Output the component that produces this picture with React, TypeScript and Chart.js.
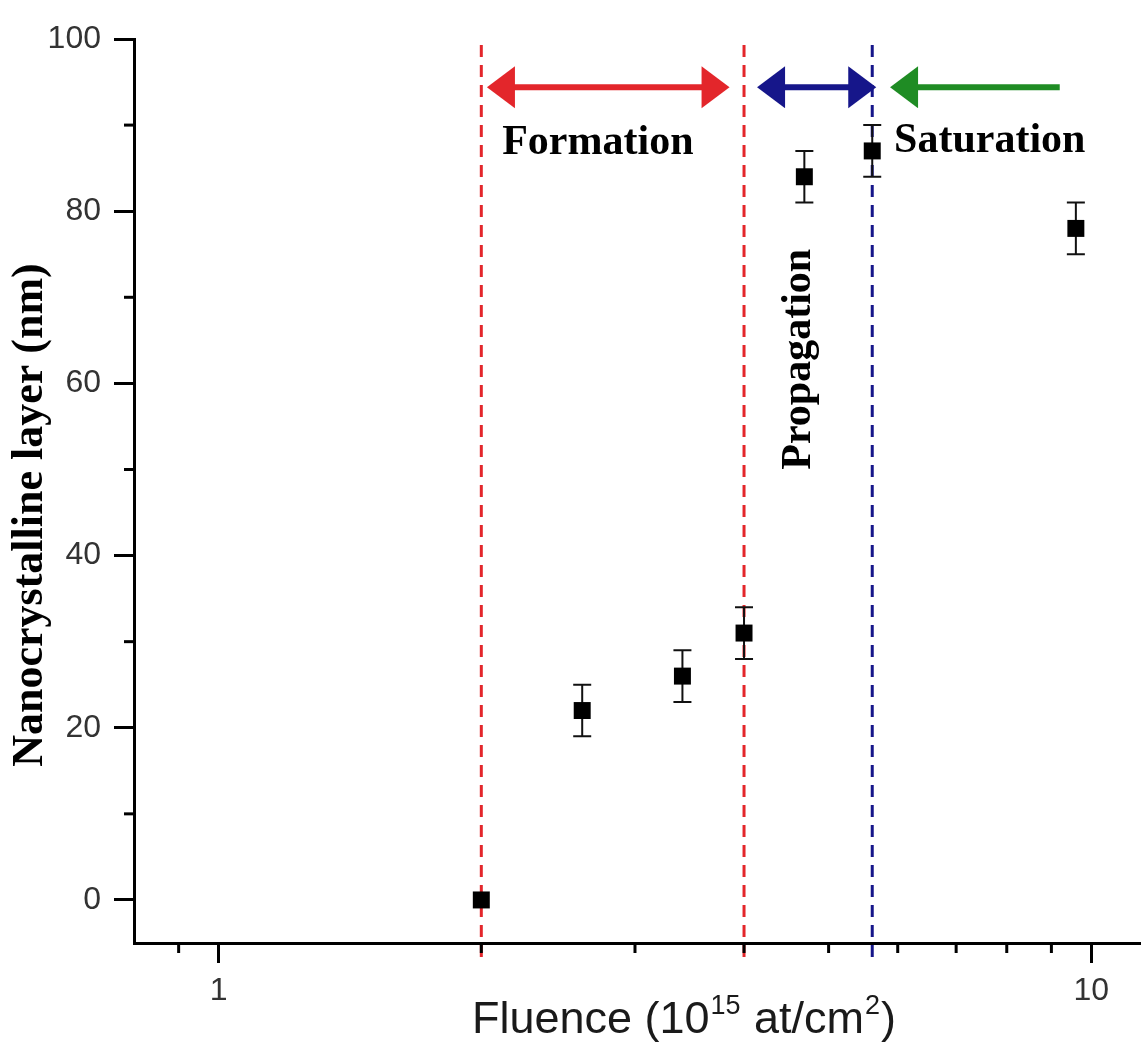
import React, { useEffect, useRef } from "react";
import { Chart, registerables } from "chart.js";

Chart.register(...registerables);

// ---- data ----
const fluence = [2.0, 2.61, 3.4, 4.0, 4.69, 5.61, 9.6];
const thickness = [0, 22, 26, 31, 84, 87, 78];
const thicknessError = [0, 3, 3, 3, 3, 3, 3];

const xMajorTicks = [1, 10];
const xMinorTicks = [0.9, 2, 3, 4, 5, 6, 7, 8, 9];
const yMajorTicks = [0, 20, 40, 60, 80, 100];
const yMinorTicks = [10, 30, 50, 70, 90];

const redBoundaries = [2.0, 4.0];
const blueBoundaries = [5.61];

const arrowLevel = 94.4;
const formationArrow = [2.03, 3.85];
const propagationArrow = [4.14, 5.67];
const saturationArrow = [9.2, 5.88]; // tail, tip

const regionLabels = ["Formation", "Propagation", "Saturation"];
const regionLabelX = [2.72, 4.76, 7.65];
const regionLabelY = [86.6, 62.8, 86.9];

const RED = "#e3262b";
const BLUE = "#16168a";
const GREEN = "#1f8c24";

function arrowHead(ctx: CanvasRenderingContext2D, tipX: number, y: number, dir: number, color: string) {
  const len = 28;
  const half = 21;
  ctx.fillStyle = color;
  ctx.beginPath();
  ctx.moveTo(tipX, y);
  ctx.lineTo(tipX - dir * len, y - half);
  ctx.lineTo(tipX - dir * len, y + half);
  ctx.closePath();
  ctx.fill();
}

function shaft(ctx: CanvasRenderingContext2D, x1: number, x2: number, y: number, color: string) {
  ctx.strokeStyle = color;
  ctx.lineWidth = 6;
  ctx.setLineDash([]);
  ctx.beginPath();
  ctx.moveTo(x1, y);
  ctx.lineTo(x2, y);
  ctx.stroke();
}

const overlayPlugin = {
  id: "overlay",
  beforeDatasetsDraw(chart: any) {
    const { ctx } = chart;
    const x = chart.scales.x;
    const y = chart.scales.y;
    ctx.save();
    // boundaries
    ctx.lineWidth = 3;
    ctx.setLineDash([12, 8]);
    const yTop = y.getPixelForValue(100) + 6;
    const yBot = y.bottom + 18;
    const drawV = (v: number, c: string) => {
      const px = x.getPixelForValue(v);
      ctx.strokeStyle = c;
      ctx.beginPath();
      ctx.moveTo(px, yTop);
      ctx.lineTo(px, yBot);
      ctx.stroke();
    };
    redBoundaries.forEach((v) => drawV(v, RED));
    blueBoundaries.forEach((v) => drawV(v, BLUE));

    // error bars
    ctx.setLineDash([]);
    ctx.strokeStyle = "#111";
    ctx.lineWidth = 2;
    fluence.forEach((f, i) => {
      const e = thicknessError[i];
      if (!e) return;
      const px = x.getPixelForValue(f);
      const y1 = y.getPixelForValue(thickness[i] + e);
      const y2 = y.getPixelForValue(thickness[i] - e);
      ctx.beginPath();
      ctx.moveTo(px, y1);
      ctx.lineTo(px, y2);
      ctx.moveTo(px - 9, y1);
      ctx.lineTo(px + 9, y1);
      ctx.moveTo(px - 9, y2);
      ctx.lineTo(px + 9, y2);
      ctx.stroke();
    });
    ctx.restore();
  },
  afterDraw(chart: any) {
    const { ctx } = chart;
    const x = chart.scales.x;
    const y = chart.scales.y;
    ctx.save();
    ctx.setLineDash([]);

    // minor ticks
    ctx.strokeStyle = "#000";
    ctx.lineWidth = 3;
    xMinorTicks.forEach((v) => {
      const px = x.getPixelForValue(v);
      ctx.beginPath();
      ctx.moveTo(px, y.bottom);
      ctx.lineTo(px, y.bottom + 10);
      ctx.stroke();
    });
    yMinorTicks.forEach((v) => {
      const py = y.getPixelForValue(v);
      ctx.beginPath();
      ctx.moveTo(x.left, py);
      ctx.lineTo(x.left - 10, py);
      ctx.stroke();
    });

    // arrows
    const ay = y.getPixelForValue(arrowLevel);
    const fL = x.getPixelForValue(formationArrow[0]);
    const fR = x.getPixelForValue(formationArrow[1]);
    shaft(ctx, fL + 20, fR - 20, ay, RED);
    arrowHead(ctx, fL, ay, -1, RED);
    arrowHead(ctx, fR, ay, 1, RED);

    const pL = x.getPixelForValue(propagationArrow[0]);
    const pR = x.getPixelForValue(propagationArrow[1]);
    shaft(ctx, pL + 20, pR - 20, ay, BLUE);
    arrowHead(ctx, pL, ay, -1, BLUE);
    arrowHead(ctx, pR, ay, 1, BLUE);

    const sT = x.getPixelForValue(saturationArrow[0]);
    const sH = x.getPixelForValue(saturationArrow[1]);
    shaft(ctx, sT, sH + 20, ay, GREEN);
    arrowHead(ctx, sH, ay, -1, GREEN);

    // region labels
    ctx.fillStyle = "#000";
    ctx.font = "bold 42px 'Liberation Serif', 'Times New Roman', serif";
    ctx.textBaseline = "alphabetic";
    regionLabels.forEach((t, i) => {
      const px = x.getPixelForValue(regionLabelX[i]);
      const py = y.getPixelForValue(regionLabelY[i]);
      if (t === "Propagation") {
        ctx.save();
        ctx.translate(px, py);
        ctx.rotate(-Math.PI / 2);
        ctx.textAlign = "center";
        ctx.fillText(t, 0, 0);
        ctx.restore();
      } else {
        ctx.textAlign = "center";
        ctx.fillText(t, px, py);
      }
    });

    // y title
    ctx.save();
    ctx.translate(31, 515);
    ctx.rotate(-Math.PI / 2);
    ctx.textAlign = "center";
    ctx.textBaseline = "middle";
    ctx.font = "bold 44px 'Liberation Serif', 'Times New Roman', serif";
    ctx.fillText("Nanocrystalline layer (nm)", 0, 0);
    ctx.restore();

    // x title with superscripts
    const base = "45px 'Liberation Sans', Arial, sans-serif";
    const sup = "27px 'Liberation Sans', Arial, sans-serif";
    const parts: [string, boolean][] = [
      ["Fluence (10", false],
      ["15", true],
      [" at/cm", false],
      ["2", true],
      [")", false],
    ];
    let total = 0;
    const widths = parts.map(([t, s]) => {
      ctx.font = s ? sup : base;
      const w = ctx.measureText(t).width + (s ? 2 : 0);
      total += w;
      return w;
    });
    let cx = 684 - total / 2;
    const by = 1033;
    ctx.fillStyle = "#1a1a1a";
    ctx.textAlign = "left";
    ctx.textBaseline = "alphabetic";
    parts.forEach(([t, s], i) => {
      ctx.font = s ? sup : base;
      ctx.fillText(t, cx + (s ? 1 : 0), s ? by - 19 : by);
      cx += widths[i];
    });

    ctx.restore();
  },
};

export default function App() {
  const canvasRef = useRef<HTMLCanvasElement | null>(null);

  useEffect(() => {
    const canvas = canvasRef.current;
    if (!canvas) return;
    const chart = new Chart(canvas, {
      type: "scatter",
      data: {
        datasets: [
          {
            label: "Nanocrystalline layer",
            data: fluence.map((f, i) => ({ x: f, y: thickness[i] })),
            pointStyle: "rect",
            pointRadius: 12,
            pointHoverRadius: 12,
            backgroundColor: "#000",
            borderColor: "#000",
            borderWidth: 0,
          },
        ],
      },
      options: {
        responsive: false,
        animation: false,
        devicePixelRatio: 1,
        layout: { autoPadding: false, padding: { top: 39, right: 0, left: 0, bottom: 0 } },
        plugins: {
          legend: { display: false },
          tooltip: { enabled: false },
          title: { display: false },
        },
        scales: {
          x: {
            type: "logarithmic",
            min: 0.8,
            max: 11.4,
            afterBuildTicks: (scale: any) => {
              scale.ticks = xMajorTicks.map((v) => ({ value: v, major: true }));
            },
            afterFit: (scale: any) => {
              scale.height = 102;
              scale.paddingLeft = 0;
              scale.paddingRight = 0;
            },
            ticks: {
              autoSkip: false,
              maxRotation: 0,
              padding: 9,
              color: "#333",
              font: { family: "'Liberation Sans', Arial, sans-serif", size: 32 },
              callback: (v: any) => String(v),
            },
            grid: {
              display: true,
              drawOnChartArea: false,
              drawTicks: true,
              tickLength: 20,
              tickWidth: 3,
              tickColor: "#000",
            },
            border: { display: true, color: "#000", width: 3 },
          },
          y: {
            type: "linear",
            min: -5,
            max: 100,
            afterBuildTicks: (scale: any) => {
              scale.ticks = yMajorTicks.map((v) => ({ value: v }));
            },
            afterFit: (scale: any) => {
              scale.width = 134;
            },
            ticks: {
              autoSkip: false,
              padding: 13,
              color: "#333",
              font: { family: "'Liberation Sans', Arial, sans-serif", size: 32 },
              callback: (v: any) => String(v),
            },
            grid: {
              display: true,
              drawOnChartArea: false,
              drawTicks: true,
              tickLength: 20,
              tickWidth: 3,
              tickColor: "#000",
            },
            border: { display: true, color: "#000", width: 3 },
          },
        },
      },
      plugins: [overlayPlugin],
    });
    return () => chart.destroy();
  }, []);

  return (
    <div style={{ position: "absolute", left: 0, top: 0, width: 1141, height: 1045, background: "#fff" }}>
      <canvas ref={canvasRef} width={1141} height={1045} style={{ display: "block" }} />
    </div>
  );
}
